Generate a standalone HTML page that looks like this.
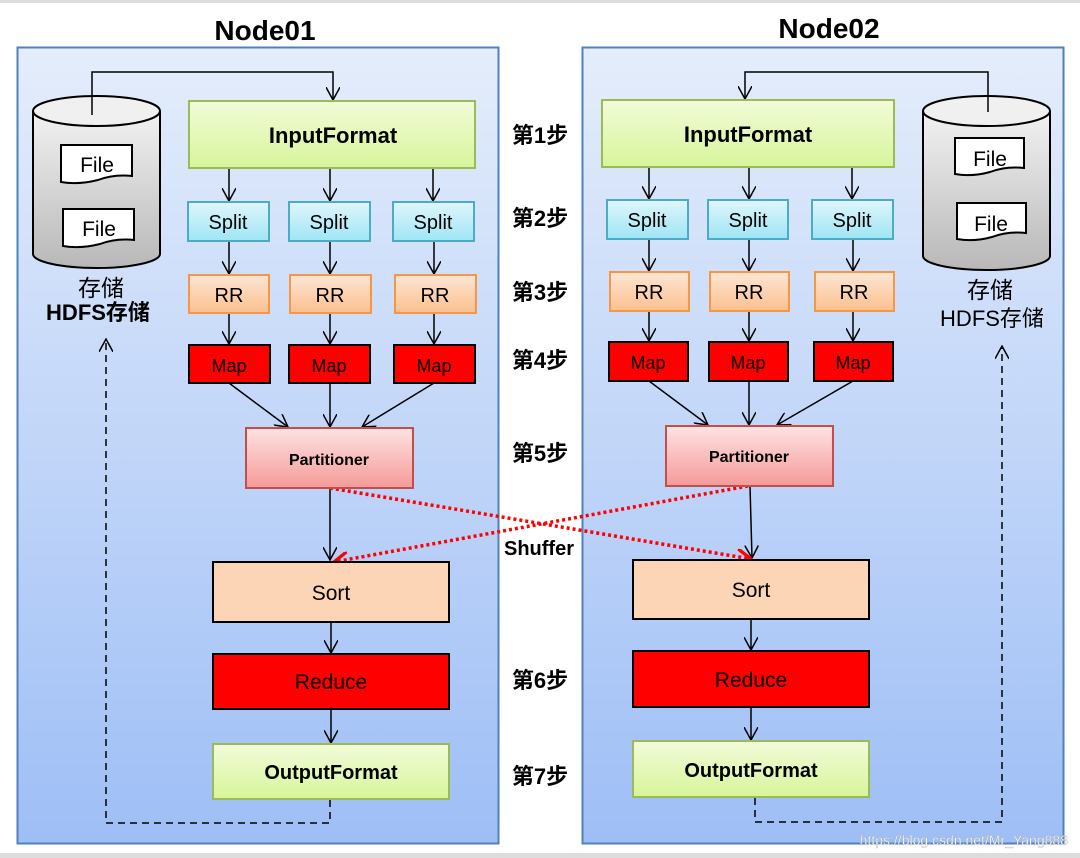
<!DOCTYPE html>
<html><head><meta charset="utf-8"><style>
html,body{margin:0;padding:0;background:#fff;width:1080px;height:858px;overflow:hidden}
svg text{font-family:"Liberation Sans","Noto Sans CJK SC",sans-serif}
</style></head><body>
<svg width="1080" height="858" viewBox="0 0 1080 858" xmlns="http://www.w3.org/2000/svg">
<defs>
<linearGradient id="bg" x1="0" y1="0" x2="0" y2="1"><stop offset="0" stop-color="#e4edfb"/><stop offset="1" stop-color="#9ebef6"/></linearGradient>
<linearGradient id="gIn" x1="0" y1="0" x2="0" y2="1"><stop offset="0" stop-color="#f2fbd9"/><stop offset="1" stop-color="#d7f59a"/></linearGradient>
<linearGradient id="gSp" x1="0" y1="0" x2="0" y2="1"><stop offset="0" stop-color="#dff6fb"/><stop offset="1" stop-color="#9fe5f6"/></linearGradient>
<linearGradient id="gRR" x1="0" y1="0" x2="0" y2="1"><stop offset="0" stop-color="#fde6d4"/><stop offset="1" stop-color="#fbc08e"/></linearGradient>
<linearGradient id="gPa" x1="0" y1="0" x2="0" y2="1"><stop offset="0" stop-color="#fde3e3"/><stop offset="1" stop-color="#f59a98"/></linearGradient>
<linearGradient id="gCy" x1="0" y1="0" x2="0" y2="1"><stop offset="0" stop-color="#f2f2f2"/><stop offset="1" stop-color="#b8b8b8"/></linearGradient>
<marker id="av" viewBox="0 0 12 12" refX="11" refY="6" markerWidth="14" markerHeight="14" markerUnits="userSpaceOnUse" orient="auto"><path d="M0,0 L11,6 L0,12" fill="none" stroke="#000" stroke-width="1.3"/></marker>
<marker id="ar" viewBox="0 0 12 12" refX="11" refY="6" markerWidth="16" markerHeight="16" markerUnits="userSpaceOnUse" orient="auto"><path d="M0,0 L11,6 L0,12" fill="none" stroke="#f00" stroke-width="2.5"/></marker>
</defs>
<rect x="0" y="0" width="1080" height="3" fill="#ddd"/>
<rect x="0" y="853" width="1080" height="5" fill="#ddd"/>
<rect x="17.5" y="47.5" width="481" height="796" fill="url(#bg)" stroke="#4f81bd" stroke-width="2"/>
<rect x="582.5" y="47.5" width="481" height="796" fill="url(#bg)" stroke="#4f81bd" stroke-width="2"/>
<text x="265" y="40" font-size="28" font-weight="bold" text-anchor="middle">Node01</text>
<text x="829" y="38" font-size="28" font-weight="bold" text-anchor="middle">Node02</text>

<g font-size="22" font-weight="bold" text-anchor="middle">
<text x="540" y="143">第1步</text><text x="540" y="226">第2步</text><text x="540" y="300">第3步</text><text x="540" y="368">第4步</text><text x="540" y="461">第5步</text><text x="540" y="688">第6步</text><text x="540" y="784">第7步</text>
<text x="539" y="555" font-size="20">Shuffer</text>
</g>

<path d="M33,111 L33,254 A63.5,14 0 0 0 160,254 L160,111" fill="url(#gCy)" stroke="#000" stroke-width="2"/>
<ellipse cx="96.5" cy="111" rx="63.5" ry="15" fill="#f0f0f0" stroke="#000" stroke-width="2"/>
<path d="M61,145 H132 V176 Q114,174 98,180 Q78,185 61,182 Z" fill="#fff" stroke="#000" stroke-width="2"/>
<path d="M63,209 H134 V240 Q116,238 100,244 Q80,249 63,246 Z" fill="#fff" stroke="#000" stroke-width="2"/>
<text x="97" y="172" font-size="21" text-anchor="middle">File</text>
<text x="99" y="236" font-size="21" text-anchor="middle">File</text>
<text x="101" y="296" font-size="23" text-anchor="middle">存储</text>
<text x="98" y="320" font-size="22" font-weight="bold" text-anchor="middle">HDFS存储</text>
<path d="M92,115 V72 H333 V100" fill="none" stroke="#000" stroke-width="1.5" marker-end="url(#av)"/>

<path d="M923,111 L923,256 A63.5,14 0 0 0 1050,256 L1050,111" fill="url(#gCy)" stroke="#000" stroke-width="2"/>
<ellipse cx="986.5" cy="111" rx="63.5" ry="15" fill="#f0f0f0" stroke="#000" stroke-width="2"/>
<path d="M955,138 H1024 V168 Q1006,166 990,172 Q972,177 955,174 Z" fill="#fff" stroke="#000" stroke-width="2"/>
<path d="M957,203 H1026 V233 Q1008,231 992,237 Q974,242 957,239 Z" fill="#fff" stroke="#000" stroke-width="2"/>
<text x="990" y="166" font-size="21" text-anchor="middle">File</text>
<text x="991" y="231" font-size="21" text-anchor="middle">File</text>
<text x="990" y="298" font-size="23" text-anchor="middle">存储</text>
<text x="992" y="326" font-size="22" text-anchor="middle">HDFS存储</text>
<path d="M988,112 V72 H745 V99" fill="none" stroke="#000" stroke-width="1.5" marker-end="url(#av)"/>

<g fill="none" stroke="#000" stroke-width="1.5" marker-end="url(#av)">
<path d="M229,168 V201"/><path d="M330,168 V201"/><path d="M433,168 V201"/>
<path d="M229,241 V274"/><path d="M330,241 V274"/><path d="M434,241 V274"/>
<path d="M229,313 V344"/><path d="M330,313 V344"/><path d="M434,313 V344"/>
<path d="M229,383 L288,427"/><path d="M330,383 V427"/><path d="M434,383 L362,427"/>
<path d="M330,488 V560"/><path d="M331,622 V653"/><path d="M331,709 V743"/>

<path d="M649,167 V199"/><path d="M749,167 V199"/><path d="M852,167 V199"/>
<path d="M649,239 V271"/><path d="M749,239 V271"/><path d="M853,239 V271"/>
<path d="M649,311 V341"/><path d="M749,311 V341"/><path d="M853,311 V341"/>
<path d="M649,381 L708,425"/><path d="M749,381 V425"/><path d="M853,381 L777,425"/>
<path d="M750,486 L752,558"/><path d="M751,619 V650"/><path d="M751,707 V740"/>
</g>
<g fill="none" stroke="#000" stroke-width="1.5" stroke-dasharray="7,5">
<path d="M330,800 V823 H106 V339" marker-end="url(#av)"/>
<path d="M755,798 V822 H1002 V346" marker-end="url(#av)"/>
</g>
<g fill="none" stroke="#f00" stroke-width="3.5" stroke-dasharray="3,3">
<path d="M330,488 L751,559" marker-end="url(#ar)"/>
<path d="M748,486 L334,562" marker-end="url(#ar)"/>
</g>

<g stroke-width="2">
<rect x="189" y="101" width="286" height="67" fill="url(#gIn)" stroke="#9bbb59"/>
<rect x="188" y="202" width="81" height="39" fill="url(#gSp)" stroke="#4bacc6"/>
<rect x="289" y="202" width="81" height="39" fill="url(#gSp)" stroke="#4bacc6"/>
<rect x="393" y="202" width="81" height="39" fill="url(#gSp)" stroke="#4bacc6"/>
<rect x="189" y="275" width="80" height="38" fill="url(#gRR)" stroke="#f79646"/>
<rect x="290" y="275" width="81" height="38" fill="url(#gRR)" stroke="#f79646"/>
<rect x="395" y="275" width="81" height="38" fill="url(#gRR)" stroke="#f79646"/>
<rect x="189" y="345" width="81" height="38" fill="#f00" stroke="#000"/>
<rect x="289" y="345" width="81" height="38" fill="#f00" stroke="#000"/>
<rect x="394" y="345" width="81" height="38" fill="#f00" stroke="#000"/>
<rect x="246" y="428" width="167" height="60" fill="url(#gPa)" stroke="#c0504d"/>
<rect x="213" y="562" width="236" height="60" fill="#fbd5b5" stroke="#000"/>
<rect x="213" y="654" width="236" height="55" fill="#f00" stroke="#000"/>
<rect x="213" y="744" width="236" height="55" fill="url(#gIn)" stroke="#9bbb59"/>

<rect x="602" y="100" width="292" height="67" fill="url(#gIn)" stroke="#9bbb59"/>
<rect x="607" y="200" width="81" height="39" fill="url(#gSp)" stroke="#4bacc6"/>
<rect x="708" y="200" width="80" height="39" fill="url(#gSp)" stroke="#4bacc6"/>
<rect x="812" y="200" width="81" height="39" fill="url(#gSp)" stroke="#4bacc6"/>
<rect x="610" y="272" width="79" height="39" fill="url(#gRR)" stroke="#f79646"/>
<rect x="710" y="272" width="79" height="39" fill="url(#gRR)" stroke="#f79646"/>
<rect x="815" y="272" width="79" height="39" fill="url(#gRR)" stroke="#f79646"/>
<rect x="609" y="342" width="79" height="39" fill="#f00" stroke="#000"/>
<rect x="709" y="342" width="79" height="39" fill="#f00" stroke="#000"/>
<rect x="814" y="342" width="79" height="39" fill="#f00" stroke="#000"/>
<rect x="666" y="426" width="167" height="60" fill="url(#gPa)" stroke="#c0504d"/>
<rect x="633" y="560" width="236" height="59" fill="#fbd5b5" stroke="#000"/>
<rect x="633" y="651" width="236" height="56" fill="#f00" stroke="#000"/>
<rect x="633" y="741" width="236" height="56" fill="url(#gIn)" stroke="#9bbb59"/>
</g>
<g font-size="20" text-anchor="middle">
<text x="333" y="143" font-size="22" font-weight="bold">InputFormat</text>
<text x="228" y="229">Split</text><text x="329" y="229">Split</text><text x="433" y="229">Split</text>
<text x="229" y="302">RR</text><text x="330" y="302">RR</text><text x="435" y="302">RR</text>
<text x="229" y="372" font-size="18">Map</text><text x="329" y="372" font-size="18">Map</text><text x="434" y="372" font-size="18">Map</text>
<text x="329" y="465" font-size="16" font-weight="bold">Partitioner</text>
<text x="331" y="600" font-size="21">Sort</text>
<text x="331" y="689" font-size="21">Reduce</text>
<text x="331" y="779" font-size="20" font-weight="bold">OutputFormat</text>

<text x="748" y="142" font-size="22" font-weight="bold">InputFormat</text>
<text x="647" y="227">Split</text><text x="748" y="227">Split</text><text x="852" y="227">Split</text>
<text x="649" y="299">RR</text><text x="749" y="299">RR</text><text x="854" y="299">RR</text>
<text x="648" y="369" font-size="18">Map</text><text x="748" y="369" font-size="18">Map</text><text x="853" y="369" font-size="18">Map</text>
<text x="749" y="462" font-size="16" font-weight="bold">Partitioner</text>
<text x="751" y="597" font-size="21">Sort</text>
<text x="751" y="687" font-size="21">Reduce</text>
<text x="751" y="777" font-size="20" font-weight="bold">OutputFormat</text>
</g>
<text x="1068" y="845" font-size="14" fill="#fff" stroke="#999" stroke-width="0.3" text-anchor="end">https://blog.csdn.net/Mr_Yang888</text>
</svg>
</body></html>
